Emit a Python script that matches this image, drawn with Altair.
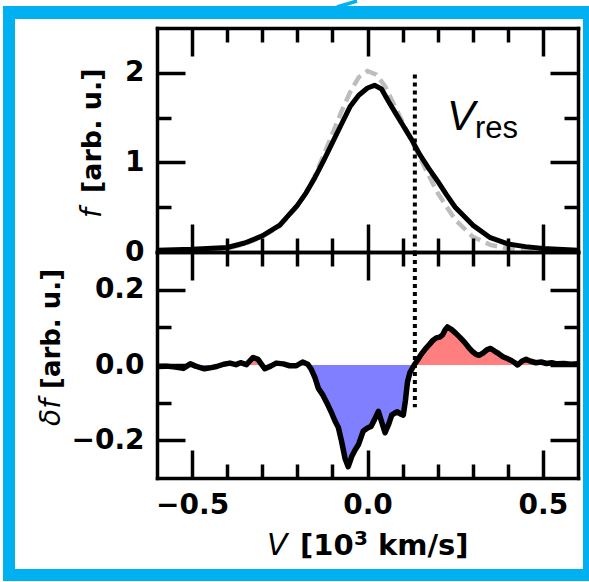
import altair as alt
import pandas as pd

# ---------------- data ----------------
V_f = [-0.6, -0.5, -0.4, -0.35, -0.3, -0.25, -0.2, -0.175, -0.15, -0.125, -0.1, -0.075,
       -0.05, -0.025, 0.0, 0.02, 0.04, 0.06, 0.08, 0.1, 0.125, 0.15, 0.175, 0.2, 0.225,
       0.25, 0.3, 0.35, 0.4, 0.45, 0.5, 0.6]
f_solid = [0.02, 0.03, 0.05, 0.1, 0.18, 0.3, 0.52, 0.66, 0.83, 1.02, 1.22, 1.42,
           1.62, 1.75, 1.83, 1.86, 1.82, 1.68, 1.55, 1.42, 1.26, 1.08, 0.93, 0.79, 0.64,
           0.5, 0.3, 0.16, 0.09, 0.06, 0.04, 0.02]

V_dash = [-0.6, -0.5, -0.4, -0.35, -0.3, -0.25, -0.2, -0.175, -0.15, -0.125, -0.1, -0.075,
          -0.05, -0.025, 0.0, 0.025, 0.05, 0.075, 0.1, 0.125, 0.15, 0.175, 0.2, 0.25, 0.3,
          0.35, 0.4, 0.5, 0.6]
f_dash = [0.01, 0.02, 0.04, 0.09, 0.17, 0.29, 0.51, 0.66, 0.85, 1.08, 1.32, 1.56,
          1.78, 1.95, 2.02, 1.98, 1.85, 1.65, 1.45, 1.25, 1.05, 0.85, 0.66, 0.36, 0.17,
          0.08, 0.04, 0.01, 0.0]

V_df = [-0.6, -0.575, -0.553, -0.525, -0.505, -0.49, -0.465, -0.445, -0.43, -0.41, -0.392,
        -0.375, -0.362, -0.345, -0.326, -0.312, -0.293, -0.276, -0.26, -0.24, -0.222, -0.203,
        -0.185, -0.17, -0.16, -0.15, -0.14, -0.127, -0.115, -0.102, -0.093, -0.083, -0.074,
        -0.064, -0.055, -0.045, -0.035, -0.026, -0.012, 0.0, 0.01, 0.02, 0.031, 0.04, 0.05,
        0.06, 0.069, 0.077, 0.085, 0.094, 0.102, 0.108, 0.114, 0.121, 0.133, 0.142, 0.152,
        0.165, 0.176, 0.187, 0.196, 0.206, 0.214, 0.221, 0.228, 0.24, 0.252, 0.265, 0.277,
        0.288, 0.3, 0.31, 0.319, 0.33, 0.34, 0.351, 0.362, 0.374, 0.386, 0.398, 0.41, 0.42,
        0.428, 0.44, 0.452, 0.465, 0.48, 0.495, 0.51, 0.525, 0.54, 0.56, 0.58, 0.6]
df_vals = [-0.004, -0.003, -0.005, -0.009, 0.003, -0.003, -0.01, -0.007, -0.004, 0.002, 0.005,
           0.001, 0.006, 0.001, 0.02, 0.015, -0.01, -0.003, 0.005, 0.003, -0.002, -0.002,
           0.008, 0.002, -0.012, -0.033, -0.062, -0.08, -0.102, -0.128, -0.148, -0.166, -0.202,
           -0.248, -0.27, -0.243, -0.225, -0.212, -0.175, -0.167, -0.163, -0.145, -0.123, -0.15,
           -0.18, -0.158, -0.133, -0.128, -0.124, -0.13, -0.133, -0.095, -0.045, -0.02, 0.0,
           0.012, 0.027, 0.043, 0.054, 0.066, 0.072, 0.074, 0.08, 0.093, 0.101, 0.094, 0.084,
           0.072, 0.06, 0.047, 0.035, 0.028, 0.026, 0.032, 0.04, 0.044, 0.037, 0.03, 0.022,
           0.017, 0.012, 0.006, 0.0, 0.01, 0.015, 0.01, 0.006, 0.008, 0.004, 0.006, 0.003,
           0.004, 0.002, 0.003]

V_res = [0.135]
vres_top_span = [1.98, 0.0]
vres_bot_span = [0.3, -0.112]

x_major = [-0.5, 0.0, 0.5]
x_minor = [-0.4, -0.3, -0.2, -0.1, 0.1, 0.2, 0.3, 0.4]
f_major = [1, 2]
f_minor = [0.5, 1.5]
f_labels = [0, 1, 2]
d_major = [-0.2, 0.0, 0.2]
d_minor = [-0.1, 0.1]
d_labels = [-0.2, 0.0, 0.2]

# ---------------- geometry / style ----------------
W, HT, HB = 421, 224, 226
H = HT + HB
CYAN = "#00B0F0"
FONT = "DejaVu Sans"
MAJ, MIN = 28, 14

xs = alt.Scale(domain=[-0.6, 0.6], nice=False, zero=False)
ys_top = alt.Scale(domain=[0, 2.5], range=[HT, 0], nice=False, zero=False)
ys_bot = alt.Scale(domain=[-0.3, 0.3], range=[H, HT], nice=False, zero=False)


def tick_axis(orient, offset, values, size, domain):
    return alt.Axis(orient=orient, offset=offset, values=values, tickSize=size,
                    labels=False, domain=domain, ticks=True, grid=False, title=None,
                    tickColor="black", domainColor="black", tickWidth=3.5,
                    domainWidth=3.5, domainCap="square", zindex=2)


def label_axis(orient, values, fmt, pad):
    return alt.Axis(orient=orient, values=values, format=fmt, ticks=False, tickSize=0,
                    domain=False, labelPadding=pad, labelFont=FONT, labelFontWeight="bold",
                    labelFontSize=28, labelColor="black", grid=False, title=None,
                    labelFlush=False, labelOverlap=False, zindex=2)


top_solid = pd.DataFrame({"V": V_f, "f": f_solid})
top_dash = pd.DataFrame({"V": V_dash, "f": f_dash})
bot = pd.DataFrame({
    "V": V_df,
    "d": df_vals,
    "pos": [max(v, 0.0) for v in df_vals],
    "neg": [min(v, 0.0) for v in df_vals],
    "zero": [0.0] * len(df_vals),
})
vres_top = pd.DataFrame({"V": V_res, "y1": [vres_top_span[0]], "y2": [vres_top_span[1]]})
vres_bot = pd.DataFrame({"V": V_res, "y1": [vres_bot_span[0]], "y2": [vres_bot_span[1]]})
one = pd.DataFrame({"a": [0]})

# ---------------- decoration frame ----------------
outer = alt.Chart(one).mark_rect(color=CYAN).encode(
    x=alt.value(-154), x2=alt.value(432), y=alt.value(-22), y2=alt.value(553))
inner = alt.Chart(one).mark_rect(color="white").encode(
    x=alt.value(-142), x2=alt.value(426), y=alt.value(-9), y2=alt.value(541))
arrow = alt.Chart(one).mark_rule(color=CYAN, strokeWidth=3.5).encode(
    x=alt.value(180), x2=alt.value(200), y=alt.value(-21), y2=alt.value(-27))

# ---------------- top panel ----------------
dash_line = alt.Chart(top_dash).mark_line(
    color="#BDBDBD", strokeWidth=4.5, strokeDash=[12, 6]).encode(
    x=alt.X("V:Q", scale=xs, axis=tick_axis("bottom", -H, x_major, MAJ, True)),
    y=alt.Y("f:Q", scale=ys_top, axis=label_axis("left", f_labels, "d", 13)),
    order="V:Q")
solid_line = alt.Chart(top_solid).mark_line(
    color="black", strokeWidth=5, strokeJoin="round").encode(
    x=alt.X("V:Q", scale=xs, axis=tick_axis("bottom", -H, x_minor, MIN, False)),
    y=alt.Y("f:Q", scale=ys_top, axis=tick_axis("right", -W, f_major, MAJ, True)),
    order="V:Q")
rule_top = alt.Chart(vres_top).mark_rule(
    color="black", strokeWidth=4, strokeDash=[4, 4]).encode(
    x=alt.X("V:Q", scale=xs, axis=tick_axis("top", -HT, x_major, MAJ, True)),
    y=alt.Y("y1:Q", scale=ys_top, axis=tick_axis("right", -W, f_minor, MIN, False)),
    y2="y2:Q")
inv_top_a = alt.Chart(top_solid).mark_point(opacity=0, size=1).encode(
    x=alt.X("V:Q", scale=xs, axis=tick_axis("top", -HT, x_minor, MIN, False)),
    y=alt.Y("f:Q", scale=ys_top, axis=tick_axis("left", -W, f_major, MAJ, True)))
inv_top_b = alt.Chart(top_solid).mark_point(opacity=0, size=1).encode(
    x=alt.X("V:Q", scale=xs, axis=None),
    y=alt.Y("f:Q", scale=ys_top, axis=tick_axis("left", -W, f_minor, MIN, False)))

# ---------------- bottom panel ----------------
area_pos = alt.Chart(bot).mark_area(color="#FF7F7F", opacity=1).encode(
    x=alt.X("V:Q", scale=xs, axis=tick_axis("bottom", -HB, x_major, MAJ, True)),
    y=alt.Y("pos:Q", scale=ys_bot, axis=label_axis("left", d_labels, ".1f", 13)),
    y2="zero:Q")
area_neg = alt.Chart(bot).mark_area(color="#7F7FFF", opacity=1).encode(
    x=alt.X("V:Q", scale=xs, axis=tick_axis("bottom", -HB, x_minor, MIN, False)),
    y=alt.Y("neg:Q", scale=ys_bot, axis=tick_axis("right", -W, d_major, MAJ, True)),
    y2="zero:Q")
df_line = alt.Chart(bot).mark_line(
    color="black", strokeWidth=5.5, strokeJoin="round").encode(
    x=alt.X("V:Q", scale=xs, axis=tick_axis("top", -H, x_major, MAJ, True)),
    y=alt.Y("d:Q", scale=ys_bot, axis=tick_axis("right", -W, d_minor, MIN, False)),
    order="V:Q")
rule_bot = alt.Chart(vres_bot).mark_rule(
    color="black", strokeWidth=4, strokeDash=[4, 4]).encode(
    x=alt.X("V:Q", scale=xs, axis=tick_axis("top", -H, x_minor, MIN, False)),
    y=alt.Y("y1:Q", scale=ys_bot, axis=tick_axis("left", -W, d_major, MAJ, True)),
    y2="y2:Q")
inv_bot = alt.Chart(bot).mark_point(opacity=0, size=1).encode(
    x=alt.X("V:Q", scale=xs, axis=label_axis("bottom", x_major, ".1f", 13)),
    y=alt.Y("d:Q", scale=ys_bot, axis=tick_axis("left", -W, d_minor, MIN, False)))


# ---------------- texts ----------------
def txt(s, x, y, size, weight="normal", style="normal", angle=0, font=FONT, align="left"):
    return alt.Chart(one).mark_text(
        text=s, font=font, fontSize=size, fontWeight=weight, fontStyle=style,
        angle=angle, align=align, baseline="alphabetic" if angle == 0 else "middle",
        color="black").encode(x=alt.value(x), y=alt.value(y))


texts = [
    txt("V", 290, 102, 42, style="italic", font="Liberation Sans"),
    txt("res", 318, 110, 31, font="Liberation Sans"),
    txt("V", 110, 527, 30, style="italic"),
    txt("[10", 143, 527, 29, weight="bold"),
    txt("3", 197, 517, 20, weight="bold"),
    txt("km/s]", 221, 527, 29, weight="bold"),
    txt("f", -64, 190, 28, style="italic", angle=270),
    txt("[arb. u.]", -64, 165, 27, weight="bold", angle=270),
    txt("δf", -105, 398, 28, style="italic", angle=270),
    txt("[arb. u.]", -105, 361, 26, weight="bold", angle=270),
]

chart = alt.layer(
    outer, inner, arrow,
    dash_line, solid_line, rule_top, inv_top_a, inv_top_b,
    area_pos, area_neg, df_line, rule_bot, inv_bot,
    *texts
).resolve_scale(y="independent").resolve_axis(x="independent", y="independent").properties(
    width=W, height=H,
    autosize=alt.AutoSizeParams(type="none"),
    padding={"left": 157, "top": 28, "right": 11, "bottom": 104},
    background="white",
).configure_view(strokeWidth=0)

chart.save("out.html", embed_options={"renderer": "svg", "actions": False})
